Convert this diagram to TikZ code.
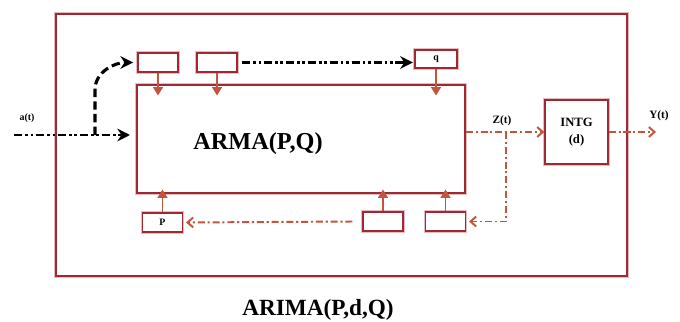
\documentclass[tikz,border=0pt]{standalone}
\usepackage{fontspec}
\setmainfont{Liberation Serif}
\usepackage{xcolor}
\usepackage{tikz}
\usetikzlibrary{arrows.meta, positioning}

\definecolor{framered}{RGB}{160,40,50}
\definecolor{flowred}{RGB}{195,85,60}

\begin{document}
\begin{tikzpicture}[
    x=0.025cm, y=-0.025cm,
    frame/.style={rectangle, draw=framered, line width=1pt, preaction={draw=framered!30, line width=2.4pt}, fill=white, inner sep=0pt},
    sbox/.style={frame, minimum width=1cm, minimum height=0.47cm, font=\bfseries\scriptsize},
    feed/.style={-{Triangle[length=6pt, width=7pt]}, draw=flowred, fill=flowred, line width=1.3pt},
    blkflow/.style={-{Stealth[length=9pt, width=9pt]}, line width=2pt, dash pattern=on 6pt off 2pt on 1.8pt off 2pt on 1.8pt off 2pt},
    blkdash/.style={-{Stealth[length=9pt, width=9pt]}, line width=2.2pt, dash pattern=on 6pt off 3pt},
    redflow/.style={-{Straight Barb[length=4pt, width=7pt]}, draw=flowred, line width=1.4pt, dash pattern=on 5pt off 2pt on 1.5pt off 2pt},
    lbl/.style={font=\bfseries\footnotesize}
]
\useasboundingbox (0,0) rectangle (680,322);

\node[frame, minimum width=14.275cm, minimum height=6.55cm] (arima) at (341.5,145) {};
\node[font=\bfseries\fontsize{16.5}{19}\selectfont] (title) at (318,310) {ARIMA(P,d,Q)};

\node[frame, minimum width=8.2cm, minimum height=2.7cm] (arma) at (301,139) {};
\node[font=\bfseries\LARGE] (armatxt) at (258,144) {ARMA(P,Q)};

\node[frame, minimum width=1.575cm, minimum height=1.6cm, align=center, font=\bfseries\small] (intg) at (576.5,132) {INTG\\[1pt](d)};

\node[sbox] (b1) at (158,62.5) {};
\node[sbox] (b2) at (217,62.5) {};
\node[sbox, minimum width=1.05cm, minimum height=0.45cm] (bq) at (436,59) {q};
\node[sbox] (bp) at (162.5,222.5) {P};
\node[sbox] (bm) at (383,221.5) {};
\node[sbox] (bn) at (445.5,221.5) {};

\coordinate (ain) at (14,135);
\coordinate (asplit) at (95,135);
\coordinate (aend) at (130,135);
\coordinate (zsplit) at (506,132);
\coordinate (yout) at (656,132);

\node[lbl, font=\bfseries\scriptsize] (alabel) at (27,118) {a(t)};
\node[lbl] (zlabel) at (502,121) {Z(t)};
\node[lbl] (ylabel) at (659,116) {Y(t)};

\draw[blkflow] (ain) -- (aend);
\draw[blkdash] (asplit) -- ++(0,-45) to[out=90, in=180] ([xshift=-3pt]b1.west);
\draw[blkflow] ([xshift=3pt]b2.east) -- ([xshift=-1pt]b2.east -| bq.west);

\draw[feed] (b1) -- ([yshift=-8pt]b1 |- arma.north);
\draw[feed] (b2) -- ([yshift=-8pt]b2 |- arma.north);
\draw[feed] (bq) -- ([yshift=-8pt]bq |- arma.north);
\draw[feed] (bp) -- ([yshift=3pt]bp |- arma.south);
\draw[feed] (bm) -- ([yshift=3pt]bm |- arma.south);
\draw[feed] (bn) -- ([yshift=3pt]bn |- arma.south);

\draw[redflow] (intg.west -| arma.east) -- (intg.west);
\draw[redflow] (zsplit) |- ([xshift=2pt]bn.east);
\draw[redflow] ([xshift=-7pt]bm.west) -- ([xshift=2pt]bp.east);
\draw[redflow] (intg.east) -- (yout);
\end{tikzpicture}
\end{document}
